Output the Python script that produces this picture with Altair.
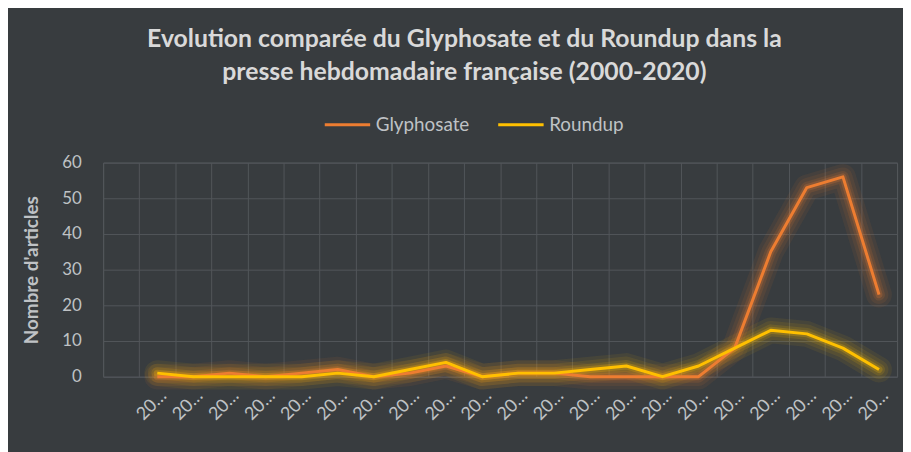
import altair as alt
import pandas as pd

YEARS = [str(y) for y in range(2000, 2021)]
GLYPHOSATE = [0, 0, 1, 0, 1, 2, 0, 1, 3, 0, 1, 1, 0, 0, 0, 0, 8, 35, 53, 56, 23]
ROUNDUP = [1, 0, 0, 0, 0, 1, 0, 2, 4, 0, 1, 1, 2, 3, 0, 3, 8, 13, 12, 8, 2]
SERIES = ["Glyphosate", "Roundup"]
COLORS = ["#ED7D31", "#FFC000"]
Y_TICKS = [0, 10, 20, 30, 40, 50, 60]
TITLE = ["Evolution comparée du Glyphosate et du Roundup dans la",
         "presse hebdomadaire française (2000-2020)"]

rows = []
for name, vals in zip(SERIES, [GLYPHOSATE, ROUNDUP]):
    for yr, v in zip(YEARS, vals):
        rows.append({"Année": yr, "Série": name, "Articles": v})
df = pd.DataFrame(rows)

FONT = "Lato"
BG = "#383c3f"
GRID = "#52565a"
TXT = "#bfc2c5"

x_enc = alt.X(
    "Année:O",
    scale=alt.Scale(domain=[""] + YEARS, paddingInner=0, paddingOuter=0),
    axis=alt.Axis(
        title=None, labelAngle=-45, labelLimit=39, labelFontSize=18,
        labelColor=TXT, labelFont=FONT, ticks=False, domain=False,
        grid=True, gridColor=GRID, gridWidth=1, tickBand="extent",
        labelPadding=10,
    ),
)
y_enc = alt.Y(
    "Articles:Q",
    scale=alt.Scale(domain=[0, 60], nice=False),
    axis=alt.Axis(
        values=Y_TICKS, title="Nombre d'articles", titleFont=FONT,
        titleFontSize=19, titleFontWeight="bold", titleColor=TXT,
        titleX=-62, labelFont=FONT, labelFontSize=17, labelColor=TXT,
        labelPadding=22, ticks=False, domain=False, grid=True,
        gridColor=GRID, gridWidth=1,
    ),
)
color_enc = alt.Color(
    "Série:N",
    scale=alt.Scale(domain=SERIES, range=COLORS),
    legend=alt.Legend(
        title=None, orient="none", legendX=222, legendY=-63,
        direction="horizontal", symbolType="stroke", symbolSize=2100,
        symbolStrokeWidth=3, symbolOpacity=1, labelFont=FONT,
        labelFontSize=19, labelColor=TXT,
        symbolOffset=0, labelOffset=4,
    ),
)

base = alt.Chart(df).encode(x=x_enc, y=y_enc, color=color_enc,
                            detail="Série:N")

glow_layers = [
    base.mark_line(strokeWidth=w, opacity=o, strokeCap="round",
                   strokeJoin="round")
    for w, o in [(26, 0.07), (19, 0.09), (12, 0.13), (7, 0.22)]
]
main = base.mark_line(strokeWidth=3, strokeJoin="round")

chart = alt.layer(*glow_layers, main).properties(
    width=801,
    height=216,
    background=BG,
    padding={"left": 96, "top": 154, "right": 6, "bottom": 74},
    autosize=alt.AutoSizeParams(type="none"),
    title=alt.TitleParams(
        text=TITLE, font=FONT, fontSize=25, fontWeight="bold",
        color="#d9d9d9", anchor="middle", dx=-36, lineHeight=34,
        offset=15,
    ),
).configure_view(stroke=GRID, strokeWidth=1).configure_legend(
    columnPadding=22
)

chart.save("out.html", embed_options={"renderer": "svg", "actions": False})
